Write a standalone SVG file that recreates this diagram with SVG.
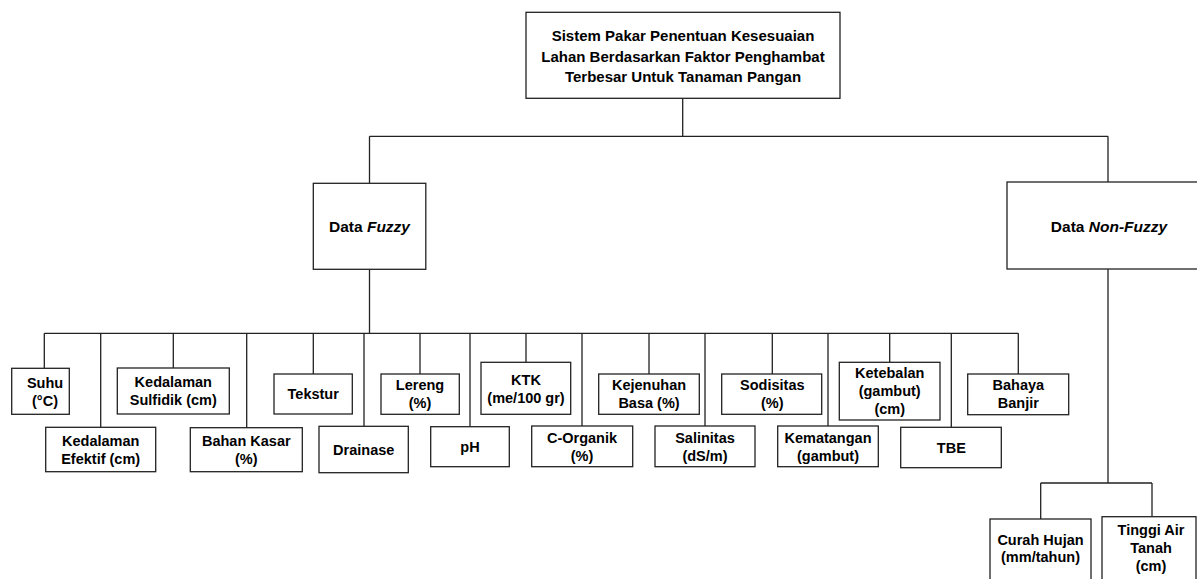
<svg xmlns="http://www.w3.org/2000/svg" width="1197" height="579" viewBox="0 0 1197 579">
<style>
.box{fill:#fff;stroke:#222;stroke-width:1.3}
.ln{fill:none;stroke:#222;stroke-width:1.3}
text{font-family:"Liberation Sans",Arial,sans-serif;font-weight:bold;fill:#000;text-anchor:middle}
.t{font-size:15px}
.d{font-size:15.5px}
.l{font-size:14.5px}
.i{font-style:italic}
</style>
<rect width="1197" height="579" fill="#fff"/>
<g id="connectors">
<path class="ln" d="M682.7 98.3V136.3M369.5 136.3H1108M369.5 136.3V183.3M1108 136.3V182"/>
<path class="ln" d="M369.5 269.3V333.3M44.3 333.3H1018.3"/>
<path class="ln" d="M44.3 333.3V368.3M100.7 333.3V427.3M173.3 333.3V368M246.7 333.3V427.7M313.3 333.3V374M364 333.3V426.3M420 333.3V374M470 333.3V426.7M526 333.3V362.3M582 333.3V426M649 333.3V374M705 333.3V426M772.3 333.3V374M828 333.3V426M889.7 333.3V362.3M951.3 333.3V427.3M1018.3 333.3V374"/>
<path class="ln" d="M1108 269V483M1040.7 483H1152M1040.7 483V519M1152 483V517"/>
</g>
<g id="root"><rect class="box" x="526" y="12.3" width="314" height="86"/>
<text class="t" x="683" y="40.5">Sistem Pakar Penentuan Kesesuaian</text>
<text class="t" x="683" y="61.5">Lahan Berdasarkan Faktor Penghambat</text>
<text class="t" x="683" y="82">Terbesar Untuk Tanaman Pangan</text></g>
<g id="fuzzy"><rect class="box" x="313.3" y="183.3" width="112.5" height="86"/>
<text class="d" x="369.5" y="231.5">Data <tspan class="i">Fuzzy</tspan></text></g>
<g id="nonfuzzy"><rect class="box" x="1007" y="182" width="210" height="87"/>
<text class="d" x="1109" y="231.5">Data <tspan class="i">Non-Fuzzy</tspan></text></g>
<g id="suhu"><rect class="box" x="11.7" y="368.3" width="57.6" height="46"/>
<text class="l" x="45" y="387.5">Suhu</text><text class="l" x="45" y="405.5">(°C)</text></g>
<g id="kedalaman-efektif"><rect class="box" x="45.7" y="427.3" width="110" height="44.4"/>
<text class="l" x="100.7" y="445.5">Kedalaman</text><text class="l" x="100.7" y="463.5">Efektif (cm)</text></g>
<g id="kedalaman-sulfidik"><rect class="box" x="117.3" y="368" width="112" height="46"/>
<text class="l" x="173.3" y="387">Kedalaman</text><text class="l" x="173.3" y="405">Sulfidik (cm)</text></g>
<g id="bahan-kasar"><rect class="box" x="190.3" y="427.7" width="112" height="44"/>
<text class="l" x="246.3" y="445.5">Bahan Kasar</text><text class="l" x="246.3" y="463.5">(%)</text></g>
<g id="tekstur"><rect class="box" x="274" y="374" width="78.3" height="40"/>
<text class="l" x="313.2" y="399.2">Tekstur</text></g>
<g id="drainase"><rect class="box" x="319" y="426.3" width="89.3" height="46.4"/>
<text class="l" x="363.7" y="454.7">Drainase</text></g>
<g id="lereng"><rect class="box" x="381" y="374" width="78.3" height="40.3"/>
<text class="l" x="420" y="390.2">Lereng</text><text class="l" x="420" y="408.2">(%)</text></g>
<g id="ph"><rect class="box" x="430.7" y="426.7" width="78.6" height="40"/>
<text class="l" x="470" y="451.9">pH</text></g>
<g id="ktk"><rect class="box" x="481" y="362.3" width="89.7" height="52"/>
<text class="l" x="526" y="384.5">KTK</text><text class="l" x="526" y="402.5">(me/100 gr)</text></g>
<g id="c-organik"><rect class="box" x="531.7" y="426" width="101" height="40.7"/>
<text class="l" x="582" y="442.5">C-Organik</text><text class="l" x="582" y="460.5">(%)</text></g>
<g id="kejenuhan-basa"><rect class="box" x="598.7" y="374" width="100.6" height="40.3"/>
<text class="l" x="649" y="390.2">Kejenuhan</text><text class="l" x="649" y="408.2">Basa (%)</text></g>
<g id="salinitas"><rect class="box" x="655" y="426" width="100" height="40.7"/>
<text class="l" x="705" y="442.5">Salinitas</text><text class="l" x="705" y="460.5">(dS/m)</text></g>
<g id="sodisitas"><rect class="box" x="721.7" y="374" width="100" height="40.3"/>
<text class="l" x="772.3" y="390.2">Sodisitas</text><text class="l" x="772.3" y="408.2">(%)</text></g>
<g id="kematangan"><rect class="box" x="777.7" y="426" width="100.6" height="40.7"/>
<text class="l" x="828" y="442.5">Kematangan</text><text class="l" x="828" y="460.5">(gambut)</text></g>
<g id="ketebalan"><rect class="box" x="839.3" y="362.3" width="100.7" height="57.7"/>
<text class="l" x="889.7" y="377.5">Ketebalan</text><text class="l" x="889.7" y="395.5">(gambut)</text><text class="l" x="889.7" y="413.5">(cm)</text></g>
<g id="tbe"><rect class="box" x="900.7" y="427.3" width="100.6" height="40.4"/>
<text class="l" x="951.3" y="452.7">TBE</text></g>
<g id="bahaya-banjir"><rect class="box" x="967.7" y="374" width="101" height="40.7"/>
<text class="l" x="1018.3" y="390.3">Bahaya</text><text class="l" x="1018.3" y="408.3">Banjir</text></g>
<g id="curah-hujan"><rect class="box" x="990" y="519" width="101" height="80"/>
<text class="l" x="1040.5" y="545">Curah Hujan</text><text class="l" x="1040.5" y="562">(mm/tahun)</text></g>
<g id="tinggi-air-tanah"><rect class="box" x="1102" y="516.7" width="94" height="80"/>
<text class="l" x="1151" y="535">Tinggi Air</text><text class="l" x="1151" y="553">Tanah</text><text class="l" x="1151" y="571">(cm)</text></g>
</svg>
